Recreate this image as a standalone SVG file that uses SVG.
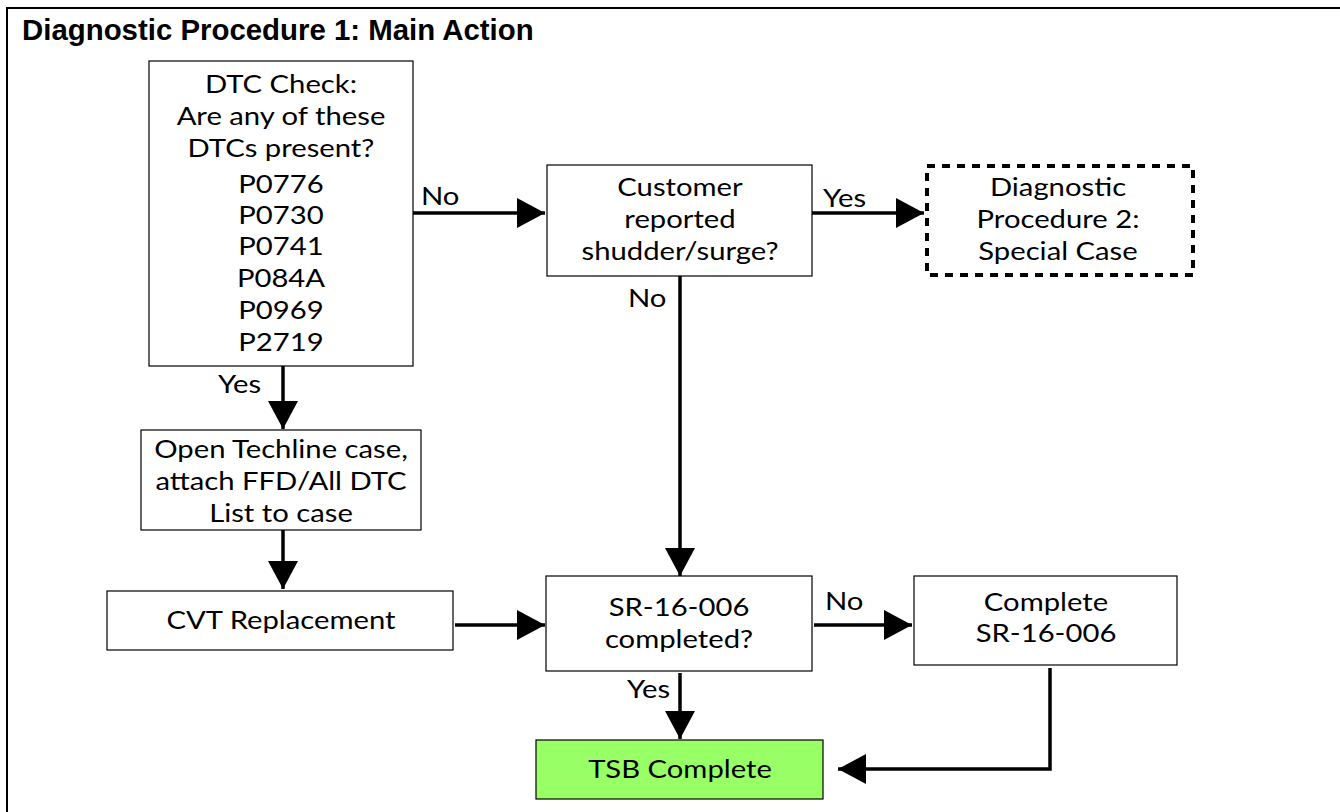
<svg xmlns="http://www.w3.org/2000/svg" width="1340" height="812" viewBox="0 0 1340 812">
<style>
.frame{fill:none;stroke:#000;stroke-width:2}
.box{fill:#fff;stroke:#000;stroke-width:1.2}
.dash{fill:#fff;stroke:#000;stroke-width:4;stroke-dasharray:8 7;stroke-linecap:butt}
.green{fill:#99FF66;stroke:#000;stroke-width:1.2}
.t{font-family:Lato,"Open Sans","Liberation Sans",sans-serif;font-size:25px;fill:#000;text-anchor:middle}
.lbl{font-family:Lato,"Open Sans","Liberation Sans",sans-serif;font-size:25px;fill:#000}
.title{font-family:"Liberation Sans",Arial,sans-serif;font-size:29.4px;font-weight:bold;fill:#000}
.c{fill:none;stroke:#000;stroke-width:3.5;marker-end:url(#ah)}
</style>
<defs>
<marker id="ah" viewBox="0 0 28 30" refX="28" refY="15" markerWidth="28" markerHeight="30" markerUnits="userSpaceOnUse" orient="auto">
<path d="M0,0 L28,15 L0,30 Z" fill="#000"/>
</marker>
</defs>
<rect width="1340" height="812" fill="#fff"/>
<path class="frame" d="M7,812 V8 H1340"/>
<text class="title" x="22" y="40">Diagnostic Procedure 1: Main Action</text>

<g id="connectors">
<line class="c" x1="413" y1="213" x2="545" y2="213"/>
<line class="c" x1="812" y1="213" x2="924" y2="213"/>
<line class="c" x1="680" y1="276" x2="680" y2="576"/>
<line class="c" x1="283" y1="366" x2="283" y2="429"/>
<line class="c" x1="283" y1="530" x2="283" y2="589"/>
<line class="c" x1="455" y1="625" x2="545" y2="625"/>
<line class="c" x1="814" y1="625" x2="912" y2="625"/>
<line class="c" x1="680" y1="673" x2="680" y2="739"/>
<path class="c" d="M1050,668 V769 H838"/>
<text class="lbl" transform="translate(421,0) scale(1.17,1)" y="205">No</text>
<text class="lbl" transform="translate(823,0) scale(1.17,1)" y="207">Yes</text>
<text class="lbl" transform="translate(628,0) scale(1.17,1)" y="307">No</text>
<text class="lbl" transform="translate(218,0) scale(1.17,1)" y="393">Yes</text>
<text class="lbl" transform="translate(825,0) scale(1.17,1)" y="610">No</text>
<text class="lbl" transform="translate(627,0) scale(1.17,1)" y="698">Yes</text>
</g>

<g id="dtc">
<rect class="box" x="149" y="61" width="264" height="305"/>
<g transform="translate(281,0) scale(1.17,1)">
<text class="t" x="0" y="93">DTC Check:</text>
<text class="t" x="0" y="125">Are any of these</text>
<text class="t" x="0" y="157">DTCs present?</text>
<text class="t" x="0" y="193">P0776</text>
<text class="t" x="0" y="224">P0730</text>
<text class="t" x="0" y="255">P0741</text>
<text class="t" x="0" y="287">P084A</text>
<text class="t" x="0" y="319">P0969</text>
<text class="t" x="0" y="351">P2719</text>
</g>
</g>

<g id="customer">
<rect class="box" x="547" y="165" width="265" height="111"/>
<g transform="translate(680,0) scale(1.17,1)">
<text class="t" x="0" y="196">Customer</text>
<text class="t" x="0" y="228">reported</text>
<text class="t" x="0" y="260">shudder/surge?</text>
</g>
</g>

<g id="procedure2">
<rect class="dash" x="927" y="166" width="266" height="109"/>
<g transform="translate(1058,0) scale(1.17,1)">
<text class="t" x="0" y="196">Diagnostic</text>
<text class="t" x="0" y="228">Procedure 2:</text>
<text class="t" x="0" y="260">Special Case</text>
</g>
</g>

<g id="techline">
<rect class="box" x="141" y="430" width="280" height="100"/>
<g transform="translate(281,0) scale(1.17,1)">
<text class="t" x="0" y="458">Open Techline case,</text>
<text class="t" x="0" y="490">attach FFD/All DTC</text>
<text class="t" x="0" y="522">List to case</text>
</g>
</g>

<g id="cvt">
<rect class="box" x="107" y="591" width="346" height="59"/>
<g transform="translate(281,0) scale(1.17,1)">
<text class="t" x="0" y="629">CVT Replacement</text>
</g>
</g>

<g id="sr">
<rect class="box" x="546" y="576" width="266" height="95"/>
<g transform="translate(679,0) scale(1.17,1)">
<text class="t" x="0" y="616">SR-16-006</text>
<text class="t" x="0" y="648">completed?</text>
</g>
</g>

<g id="complete">
<rect class="box" x="914" y="576" width="263" height="89"/>
<g transform="translate(1046,0) scale(1.17,1)">
<text class="t" x="0" y="611">Complete</text>
<text class="t" x="0" y="642">SR-16-006</text>
</g>
</g>

<g id="tsb">
<rect class="green" x="536" y="740" width="287" height="59"/>
<g transform="translate(680,0) scale(1.17,1)">
<text class="t" x="0" y="778">TSB Complete</text>
</g>
</g>
</svg>
